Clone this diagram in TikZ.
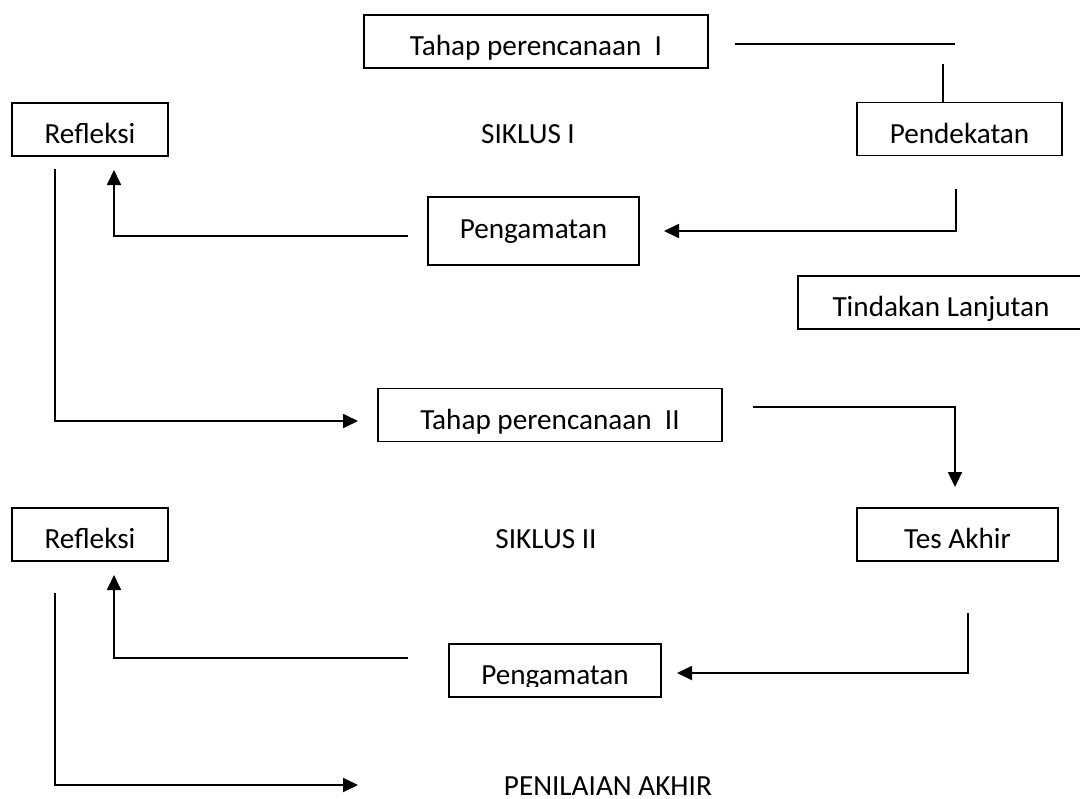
\documentclass[tikz,border=0pt]{standalone}
\usepackage{fontspec}
\setmainfont{Carlito}
\usetikzlibrary{arrows.meta}

\begin{document}
\begin{tikzpicture}[x=0.5pt,y=-0.5pt,line width=0.9pt,
    font=\fontsize{14.6pt}{17pt}\selectfont,
    kotak/.style={draw,inner sep=0pt,minimum height=26.5pt,text height=14pt,text depth=0pt},
    tulisan/.style={inner sep=0pt,text height=14pt,text depth=0pt},
    panah/.style={-{Triangle[length=7.5pt,width=7pt]}}]

		\useasboundingbox (0,0) rectangle (1080,798);

		% siklus I
		\node[kotak,minimum width=172pt] (tpA) at (536,41.5) {Tahap perencanaan~~I};
		\node[kotak,minimum width=78pt] (refA) at (90,129.5) {Refleksi};
		\node[kotak,minimum width=102.5pt] (pend) at (959.5,129) {Pendekatan};
		\node[kotak,minimum width=105.5pt,minimum height=34pt,text height=10pt,text depth=3pt] (pgA) at (533.5,231) {Pengamatan};
		\node[kotak,minimum width=143pt] (tind) at (941,302.5) {Tindakan Lanjutan};
		\node[anchor=base] (sikA) at (528,143) {SIKLUS I};

		% siklus II
		\node[kotak,minimum width=172pt] (tpB) at (550,415) {Tahap perencanaan~~II};
		\node[kotak,minimum width=78pt] (refB) at (90,534.5) {Refleksi};
		\node[kotak,minimum width=100.5pt] (tes) at (957.5,534.5) {Tes Akhir};
		\node[kotak,minimum width=106pt] (pgB) at (555,670.5) {};
		\begin{scope}
			\clip (440,640) rectangle (670,686);
			\node[tulisan] (pgBteks) at (pgB) {Pengamatan};
		\end{scope}
		\node[anchor=base] (sikB) at (546,548) {SIKLUS II};
		\node[anchor=base west,inner sep=0pt] (nilai) at (503,795) {PENILAIAN AKHIR};

		\coordinate (a1) at (735,44) ;
		\coordinate (a2) at (955,44) ;
		\coordinate (a3) at (943,64) ;
		\coordinate (b1) at (956,189) ;
		\coordinate (b2) at (664,231) ;
		\coordinate (c1) at (408,236) ;
		\coordinate (c2) at (114,170) ;
		\coordinate (d1) at (55,169) ;
		\coordinate (d2) at (358,421) ;
		\coordinate (e1) at (753,407) ;
		\coordinate (e2) at (955,487) ;
		\coordinate (f1) at (968,613) ;
		\coordinate (f2) at (677,673) ;
		\coordinate (g1) at (408,658) ;
		\coordinate (g2) at (114,575) ;
		\coordinate (h1) at (55,593) ;
		\coordinate (h2) at (358,785) ;

		\draw (a1) -- (a2);
		\draw (a3) -- (a3 |- pend.north);
		\draw[panah] (b1) |- (b2);
		\draw[panah] (c1) -| (c2);
		\draw[panah] (d1) |- (d2);
		\draw[panah] (e1) -| (e2);
		\draw[panah] (f1) |- (f2);
		\draw[panah] (g1) -| (g2);
		\draw[panah] (h1) |- (h2);
\end{tikzpicture}
\end{document}
